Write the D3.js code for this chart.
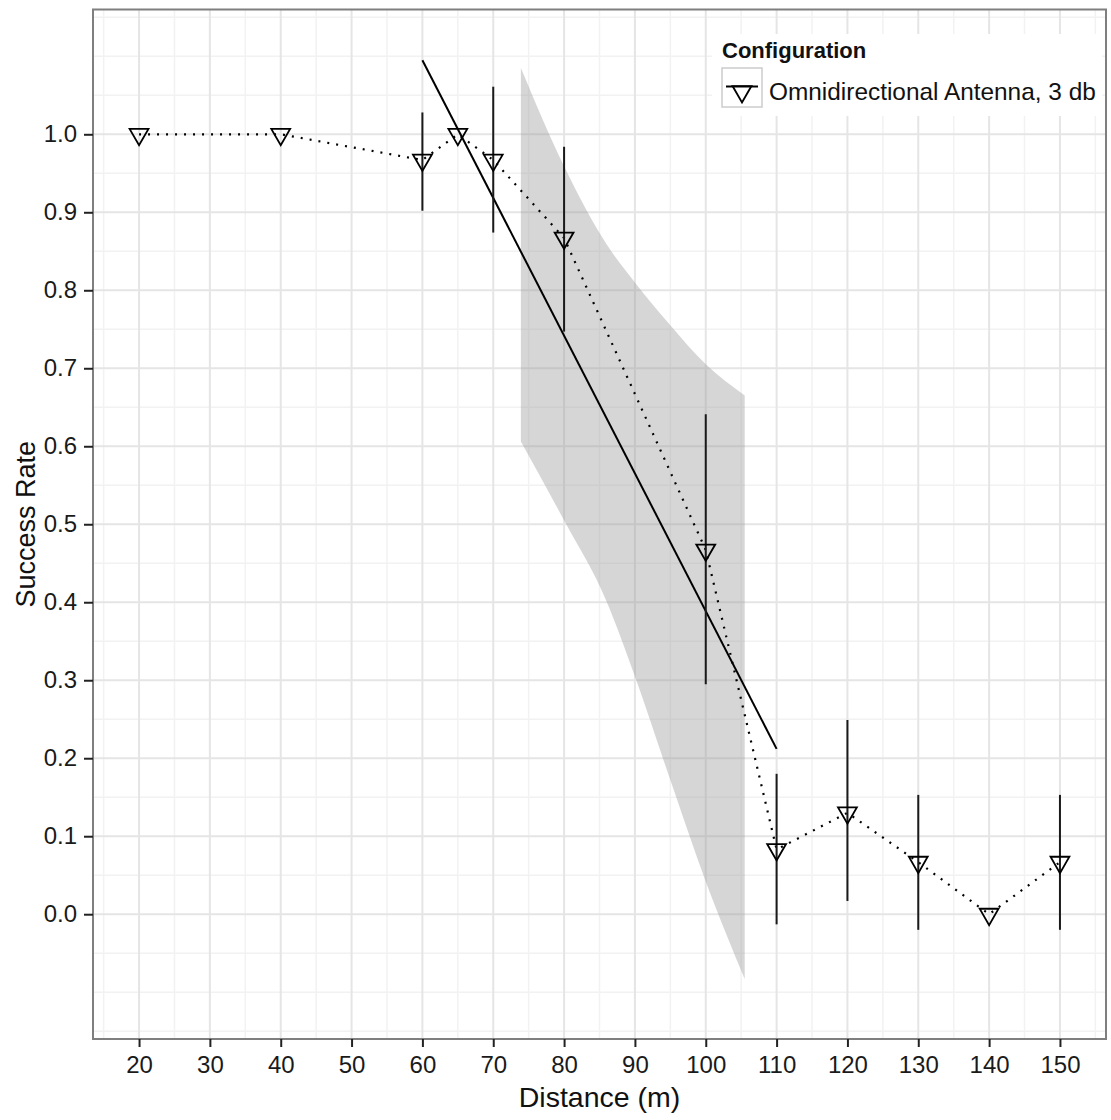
<!DOCTYPE html>
<html>
<head>
<meta charset="utf-8">
<script src="https://cdn.jsdelivr.net/npm/d3@7"></script>
<style>
  body { margin: 0; background: #ffffff; }
  text { font-family: "Liberation Sans", Arial, sans-serif; }
</style>
</head>
<body>
<svg id="chart" width="1111" height="1120"></svg>
<script>
// Measured success rate per distance, with confidence bounds
const distances   = [20, 40, 60, 65, 70, 80, 100, 110, 120, 130, 140, 150];
const successRate = [1.0, 1.0, 0.967, 1.0, 0.967, 0.867, 0.467, 0.083, 0.13, 0.0667, 0.0, 0.0667];
const errLow      = [null, null, 0.902, null, 0.874, 0.747, 0.295, -0.013, 0.017, -0.02, null, -0.02];
const errHigh     = [null, null, 1.028, null, 1.061, 0.984, 0.641, 0.180, 0.249, 0.153, null, 0.153];

// Linear fit over the drop-off region
const fitX = [60, 110];
const fitY = [1.095, 0.212];

// Confidence band of the fit
const bandX     = [73.9, 80, 86, 90, 95, 100, 105.5];
const bandUpper = [1.085, 0.959, 0.859, 0.81, 0.755, 0.705, 0.665];
const bandLower = [0.606, 0.505, 0.401, 0.305, 0.172, 0.042, -0.083];

// Axis breaks
const xTicks = [20, 30, 40, 50, 60, 70, 80, 90, 100, 110, 120, 130, 140, 150];
const yTicks = [0.0, 0.1, 0.2, 0.3, 0.4, 0.5, 0.6, 0.7, 0.8, 0.9, 1.0];
const xMinor = [15, 25, 35, 45, 55, 65, 75, 85, 95, 105, 115, 125, 135, 145, 155];
const yMinor = [-0.15, -0.1, -0.05, 0.05, 0.15, 0.25, 0.35, 0.45, 0.55, 0.65, 0.75, 0.85, 0.95, 1.05, 1.1, 1.15];

const legendTitle = "Configuration";
const legendLabel = "Omnidirectional Antenna, 3 db";
const xTitle = "Distance (m)";
const yTitle = "Success Rate";

const panel = { left: 93, right: 1106, top: 9.5, bottom: 1039 };

const svg = d3.select("#chart");

const x = d3.scaleLinear().domain([13.5, 156.5]).range([panel.left, panel.right]);
const y = d3.scaleLinear().domain([-0.16, 1.16]).range([panel.bottom, panel.top]);

// Panel background
svg.append("rect")
  .attr("x", panel.left).attr("y", panel.top)
  .attr("width", panel.right - panel.left).attr("height", panel.bottom - panel.top)
  .attr("fill", "#ffffff");

const grid = svg.append("g");
// minor grid
grid.selectAll("line.xminor").data(xMinor).enter().append("line")
  .attr("x1", d => x(d)).attr("x2", d => x(d))
  .attr("y1", panel.top).attr("y2", panel.bottom)
  .attr("stroke", "#f2f2f2").attr("stroke-width", 1.5);
grid.selectAll("line.yminor").data(yMinor).enter().append("line")
  .attr("y1", d => y(d)).attr("y2", d => y(d))
  .attr("x1", panel.left).attr("x2", panel.right)
  .attr("stroke", "#f2f2f2").attr("stroke-width", 1.5);
// major grid
grid.selectAll("line.xmajor").data(xTicks).enter().append("line")
  .attr("x1", d => x(d)).attr("x2", d => x(d))
  .attr("y1", panel.top).attr("y2", panel.bottom)
  .attr("stroke", "#e5e5e5").attr("stroke-width", 2);
grid.selectAll("line.ymajor").data(yTicks).enter().append("line")
  .attr("y1", d => y(d)).attr("y2", d => y(d))
  .attr("x1", panel.left).attr("x2", panel.right)
  .attr("stroke", "#e5e5e5").attr("stroke-width", 2);

// Confidence band
const band = bandX.map((d, i) => ({ x: d, lo: bandLower[i], hi: bandUpper[i] }));
svg.append("path")
  .datum(band)
  .attr("d", d3.area().x(d => x(d.x)).y0(d => y(d.lo)).y1(d => y(d.hi)).curve(d3.curveMonotoneX))
  .attr("fill", "#999999").attr("fill-opacity", 0.4);

// Fitted line
const fit = fitX.map((d, i) => ({ x: d, y: fitY[i] }));
svg.append("path")
  .datum(fit)
  .attr("d", d3.line().x(d => x(d.x)).y(d => y(d.y)))
  .attr("fill", "none").attr("stroke", "#000").attr("stroke-width", 2);

const pts = distances.map((d, i) => ({ x: d, y: successRate[i], lo: errLow[i], hi: errHigh[i] }));

// Dotted path through the observations
svg.append("path")
  .datum(pts)
  .attr("d", d3.line().x(d => x(d.x)).y(d => y(d.y)))
  .attr("fill", "none").attr("stroke", "#000").attr("stroke-width", 2.2)
  .attr("stroke-dasharray", "2,7");

// Error bars
svg.selectAll("line.err").data(pts.filter(d => d.lo !== null)).enter().append("line")
  .attr("x1", d => x(d.x)).attr("x2", d => x(d.x))
  .attr("y1", d => y(d.lo)).attr("y2", d => y(d.hi))
  .attr("stroke", "#1a1a1a").attr("stroke-width", 2);

// Down-pointing triangle markers
const r = 7;
function triangle(cx, cy) {
  const hw = 1.3468 * r, up = 0.7776 * r, dn = 1.5551 * r;
  return `M${cx - hw},${cy - up}L${cx + hw},${cy - up}L${cx},${cy + dn}Z`;
}
svg.selectAll("path.pt").data(pts).enter().append("path")
  .attr("d", d => triangle(x(d.x), y(d.y)))
  .attr("fill", "none").attr("stroke", "#000").attr("stroke-width", 1.8)
  .attr("stroke-linejoin", "miter");

// Panel border
svg.append("rect")
  .attr("x", panel.left).attr("y", panel.top)
  .attr("width", panel.right - panel.left).attr("height", panel.bottom - panel.top)
  .attr("fill", "none").attr("stroke", "#7f7f7f").attr("stroke-width", 2);

// Axes
const xAxis = svg.append("g")
  .attr("transform", `translate(0,${panel.bottom})`)
  .call(d3.axisBottom(x).tickValues(xTicks).tickSize(8).tickPadding(9).tickFormat(d3.format("d")));
const yAxis = svg.append("g")
  .attr("transform", `translate(${panel.left},0)`)
  .call(d3.axisLeft(y).tickValues(yTicks).tickSize(9).tickPadding(7).tickFormat(d3.format(".1f")));
[xAxis, yAxis].forEach(g => {
  g.select(".domain").remove();
  g.selectAll(".tick line").attr("stroke", "#222").attr("stroke-width", 2);
  g.selectAll(".tick text")
    .attr("fill", "#1a1a1a")
    .style("font-size", "24px")
    .style("font-family", "'Liberation Sans', Arial, sans-serif");
});

// Axis titles
svg.append("text")
  .attr("x", (panel.left + panel.right) / 2).attr("y", 1107)
  .attr("text-anchor", "middle")
  .style("font-size", "28.5px").attr("fill", "#111")
  .text(xTitle);
svg.append("text")
  .attr("transform", `translate(35,${(panel.top + panel.bottom) / 2}) rotate(-90)`)
  .attr("text-anchor", "middle")
  .style("font-size", "27px").attr("fill", "#111")
  .text(yTitle);

// Legend
const lg = svg.append("g");
lg.append("rect").attr("x", 712).attr("y", 34).attr("width", 390).attr("height", 82).attr("fill", "#fff");
lg.append("text").attr("x", 722).attr("y", 58)
  .style("font-size", "22px").style("font-weight", "bold").attr("fill", "#111")
  .text(legendTitle);
lg.append("rect").attr("x", 722).attr("y", 68).attr("width", 40).attr("height", 39)
  .attr("fill", "#fff").attr("stroke", "#cccccc").attr("stroke-width", 1.5);
lg.append("line").attr("x1", 726).attr("x2", 758).attr("y1", 86.5).attr("y2", 86.5)
  .attr("stroke", "#000").attr("stroke-width", 2);
lg.append("path").attr("d", triangle(742, 91.5))
  .attr("fill", "none").attr("stroke", "#000").attr("stroke-width", 1.8);
lg.append("text").attr("x", 769).attr("y", 100)
  .style("font-size", "24.4px").attr("fill", "#111")
  .text(legendLabel);
</script>
</body>
</html>
